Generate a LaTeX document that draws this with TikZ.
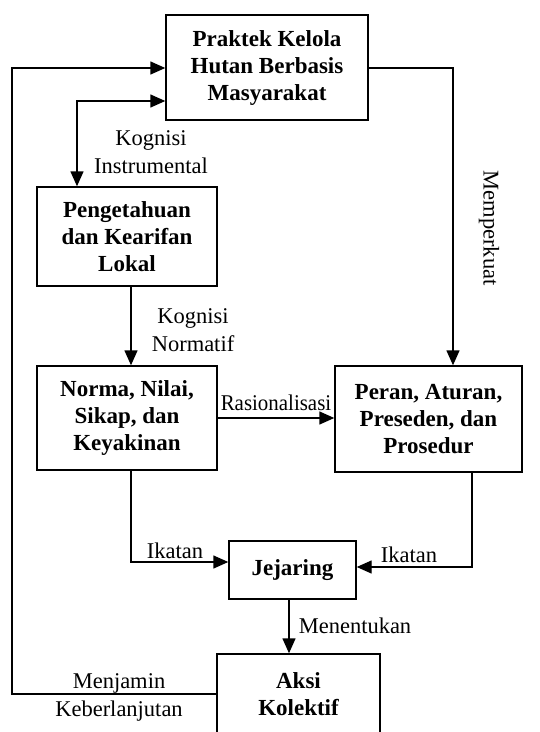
\documentclass[tikz,border=0pt]{standalone}
\usepackage{fontspec}
\setmainfont{Liberation Serif}
\usetikzlibrary{arrows.meta,calc}
\begin{document}
\begin{tikzpicture}[x=1pt,y=-1pt,
  box/.style={draw,line width=1.4pt,align=center,inner sep=0pt,font=\fontsize{23}{27}\selectfont\bfseries},
  lbl/.style={align=center,inner sep=0pt,font=\fontsize{22.5}{28}\selectfont},
  arr/.style={line width=1.4pt,-{Triangle[length=15pt,width=13pt]}},
  darr/.style={line width=1.4pt,{Triangle[length=15pt,width=13pt]}-{Triangle[length=15pt,width=13pt]}},
  ln/.style={line width=1.4pt}]
\useasboundingbox (0,0) rectangle (540,732);
\clip (0,0) rectangle (540,732);
% boxes
\node[box,minimum width=202pt,minimum height=105pt] (prak) at (267,67.5) {Praktek Kelola\\Hutan Berbasis\\Masyarakat};
\node[box,minimum width=180pt,minimum height=99pt] (peng) at (127,236.5) {Pengetahuan\\dan Kearifan\\Lokal};
\node[box,minimum width=180pt,minimum height=104pt] (norma) at (127,418) {Norma, Nilai,\\Sikap, dan\\Keyakinan};
\node[box,minimum width=187pt,minimum height=106pt] (peran) at (428.5,419) {Peran, Aturan,\\Preseden, dan\\Prosedur};
\node[box,minimum width=127pt,minimum height=58pt] (jej) at (292.5,570) {Jejaring};
\node[box,minimum width=163pt,minimum height=80pt] (aksi) at (298.5,694) {Aksi\\Kolektif};
% helper coordinates
\coordinate (lx) at (12,68);
\coordinate (dx) at (77,101);
\coordinate (rx) at (453,68);
\coordinate (nx) at (131,562);
\coordinate (px) at (472,567);
% connectors
\draw[arr] (aksi.west) -- (aksi.west -| lx) -- (lx) -- (lx -| prak.west);
\draw[darr] (dx -| prak.west) -- (dx) -- (dx |- peng.north);
\draw[arr] (prak.east |- rx) -- (rx) -- (rx |- peran.north);
\draw[arr] (nx |- peng.south) -- (nx |- norma.north);
\draw[arr] (norma.east) -- (norma.east -| peran.west);
\draw[arr] (nx |- norma.south) -- (nx) -- (nx -| jej.west);
\draw[arr] (px |- peran.south) -- (px) -- (px -| jej.east);
\draw[arr] (289,599) coordinate (jb) (jb |- jej.south) -- (jb |- aksi.north);
% labels
\node[lbl] (l1) at (151,152) {Kognisi\\Instrumental};
\node[lbl] (l2) at (193,330) {Kognisi\\Normatif};
\node[lbl] (l3) at (276,403) {\scalebox{0.93}[1]{Rasionalisasi}};
\node[lbl,rotate=-90] (l4) at (489,228) {Memperkuat};
\node[lbl] (l5) at (175,551) {Ikatan};
\node[lbl] (l6) at (409,555) {Ikatan};
\node[lbl] (l7) at (355,626) {Menentukan};
\node[lbl] (l8) at (119,697.5) {Menjamin\\Keberlanjutan};
\end{tikzpicture}
\end{document}
